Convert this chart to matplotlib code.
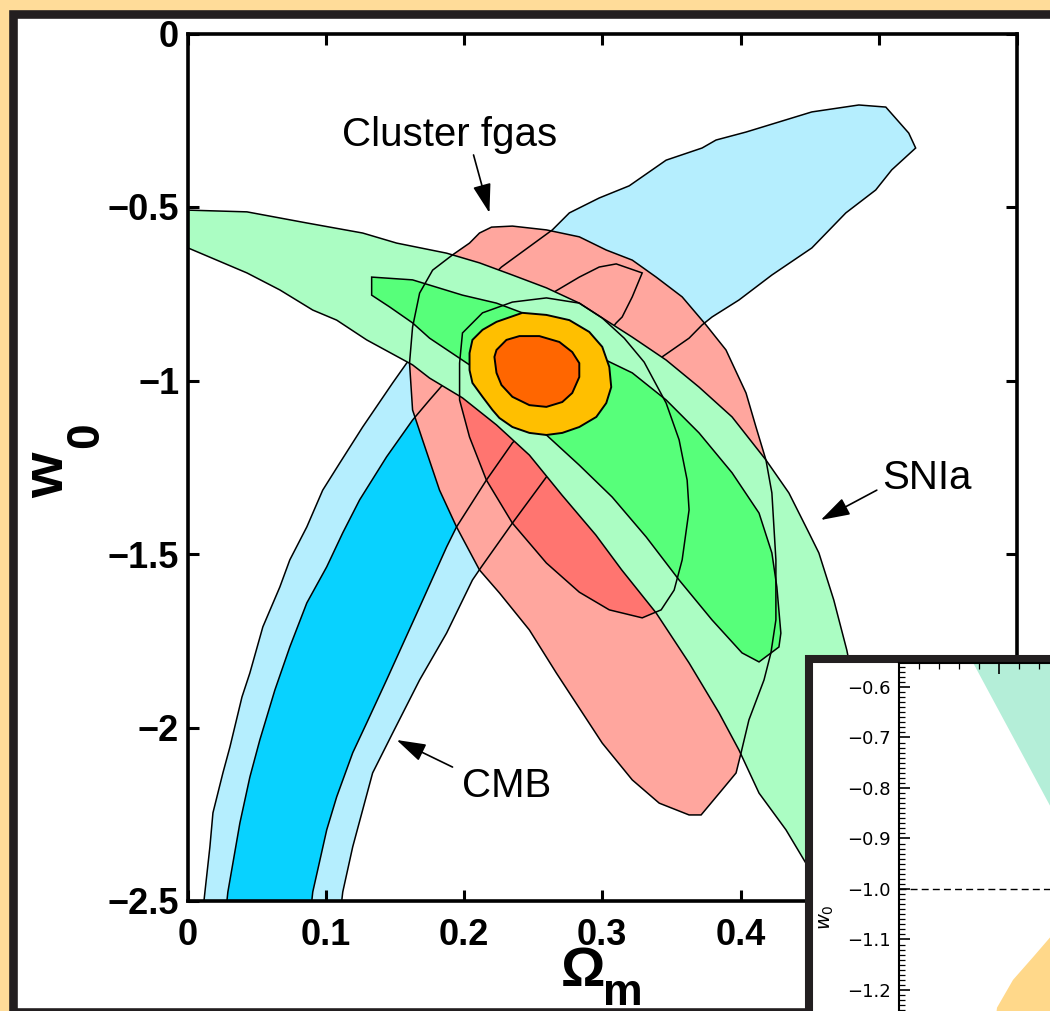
import matplotlib
matplotlib.use("Agg")
import matplotlib.pyplot as plt
from matplotlib.patches import Polygon, Rectangle
from matplotlib.ticker import FixedLocator, MultipleLocator, NullFormatter

# ---------------- data (Omega_m, w0) ----------------
cmb95_om = [0.0112, 0.0126, 0.0162, 0.0184, 0.0256, 0.0307, 0.0394, 0.0451, 0.0545, 0.0668,
            0.0740, 0.0863, 0.0978, 0.1101, 0.1267, 0.1484, 0.1585, 0.1895, 0.2271, 0.2639,
            0.2762, 0.2978, 0.3195, 0.3462, 0.3722, 0.3823, 0.4040, 0.4278, 0.4516, 0.4856,
            0.5051, 0.5217, 0.5267, 0.5094, 0.4978, 0.4762, 0.4516, 0.4227, 0.3989, 0.3794,
            0.3722, 0.3628, 0.3433, 0.3123, 0.2834, 0.2596, 0.2350, 0.2126, 0.2061, 0.1874,
            0.1679, 0.1484, 0.1339, 0.1195, 0.1123, 0.1108]
cmb95_w = [-2.526, -2.474, -2.344, -2.246, -2.131, -2.056, -1.912, -1.843, -1.710, -1.595,
           -1.517, -1.422, -1.316, -1.238, -1.134, -1.007, -0.950, -0.820, -0.673, -0.566,
           -0.517, -0.474, -0.439, -0.365, -0.330, -0.307, -0.284, -0.255, -0.226, -0.206,
           -0.212, -0.287, -0.330, -0.393, -0.451, -0.517, -0.618, -0.696, -0.768, -0.817,
           -0.840, -0.878, -0.932, -1.056, -1.171, -1.278, -1.411, -1.537, -1.575, -1.728,
           -1.863, -2.016, -2.131, -2.344, -2.474, -2.526]

cmb68_om = [0.0278, 0.0292, 0.0379, 0.0451, 0.0523, 0.0632, 0.0740, 0.0863, 0.1007, 0.1123,
            0.1245, 0.1440, 0.1628, 0.1751, 0.1845, 0.2256, 0.2639, 0.2834, 0.2978, 0.3101,
            0.3289, 0.3217, 0.3144, 0.3101, 0.2834, 0.2581, 0.2350, 0.2162, 0.1946, 0.1874,
            0.1679, 0.1440, 0.1296, 0.1195, 0.1079, 0.1007, 0.0906, 0.0892]
cmb68_w = [-2.526, -2.474, -2.275, -2.143, -2.036, -1.892, -1.768, -1.641, -1.537, -1.439,
           -1.344, -1.220, -1.114, -1.056, -1.013, -0.869, -0.748, -0.702, -0.673, -0.664,
           -0.690, -0.759, -0.817, -0.834, -0.970, -1.085, -1.180, -1.287, -1.422, -1.480,
           -1.653, -1.863, -1.987, -2.073, -2.200, -2.295, -2.474, -2.526]

fgas95_om = [0.1917, 0.2040, 0.2112, 0.2199, 0.2350, 0.2596, 0.2834, 0.3029, 0.3217, 0.3390,
             0.3578, 0.3751, 0.3895, 0.4040, 0.4112, 0.4184, 0.4227, 0.4256, 0.4256, 0.4220,
             0.4170, 0.4061, 0.4004, 0.3968, 0.3866, 0.3715, 0.3628, 0.3412, 0.3217, 0.3000,
             0.2834, 0.2668, 0.2473, 0.2256, 0.2112, 0.1946, 0.1823, 0.1700, 0.1628, 0.1606,
             0.1628, 0.1679, 0.1773]
fgas95_w = [-0.638, -0.604, -0.575, -0.558, -0.555, -0.566, -0.586, -0.624, -0.653, -0.702,
            -0.759, -0.840, -0.912, -1.036, -1.134, -1.229, -1.324, -1.517, -1.690, -1.785,
            -1.863, -1.978, -2.073, -2.131, -2.180, -2.252, -2.252, -2.218, -2.151, -2.045,
            -1.944, -1.843, -1.719, -1.612, -1.546, -1.422, -1.316, -1.171, -1.085, -0.950,
            -0.846, -0.748, -0.682]

fgas68_om = [0.1968, 0.1989, 0.2134, 0.2350, 0.2596, 0.2834, 0.3000, 0.3159, 0.3303, 0.3462,
             0.3556, 0.3614, 0.3628, 0.3578, 0.3520, 0.3426, 0.3289, 0.3051, 0.2834, 0.2596,
             0.2350, 0.2162, 0.2040, 0.1968]
fgas68_w = [-0.950, -0.863, -0.805, -0.774, -0.762, -0.777, -0.820, -0.878, -0.947, -1.065,
            -1.171, -1.287, -1.373, -1.517, -1.604, -1.661, -1.684, -1.661, -1.610, -1.526,
            -1.411, -1.287, -1.163, -1.056]

sn95_om = [-0.0126, 0.0004, 0.0430, 0.0863, 0.1267, 0.1513, 0.1874, 0.2112, 0.2350, 0.2596,
           0.2834, 0.2978, 0.3217, 0.3462, 0.3700, 0.3939, 0.4184, 0.4350, 0.4495, 0.4567,
           0.4675, 0.4769, 0.4928, 0.5000, 0.4711, 0.4473, 0.4329, 0.4134, 0.3989, 0.3845,
           0.3628, 0.3390, 0.3141, 0.2953, 0.2708, 0.2473, 0.2235, 0.1989, 0.1751, 0.1628,
           0.1296, 0.1079, 0.0906, 0.0668, 0.0430, 0.0004, -0.0126]
sn95_w = [-0.506, -0.509, -0.514, -0.546, -0.575, -0.604, -0.633, -0.661, -0.696, -0.733,
          -0.777, -0.814, -0.875, -0.941, -1.019, -1.105, -1.229, -1.324, -1.439, -1.497,
          -1.633, -1.777, -2.094, -2.497, -2.555, -2.391, -2.295, -2.189, -2.065, -1.958,
          -1.814, -1.670, -1.546, -1.445, -1.330, -1.215, -1.128, -1.050, -0.993, -0.955,
          -0.883, -0.826, -0.797, -0.739, -0.690, -0.618, -0.595]

sn68_om = [0.1332, 0.1628, 0.1751, 0.1989, 0.2235, 0.2422, 0.2690, 0.2978, 0.3217, 0.3462,
           0.3700, 0.3939, 0.4134, 0.4227, 0.4263, 0.4292, 0.4278, 0.4134, 0.4011, 0.3794,
           0.3556, 0.3318, 0.3072, 0.2834, 0.2596, 0.2329, 0.2040, 0.1751, 0.1628, 0.1462,
           0.1332]
sn68_w = [-0.702, -0.710, -0.725, -0.754, -0.777, -0.805, -0.863, -0.932, -0.978, -1.056,
          -1.151, -1.266, -1.382, -1.497, -1.595, -1.728, -1.768, -1.811, -1.785, -1.690,
          -1.575, -1.451, -1.336, -1.244, -1.157, -1.056, -0.955, -0.878, -0.834, -0.788,
          -0.754]

comb95_om = [0.2040, 0.2061, 0.2134, 0.2235, 0.2422, 0.2596, 0.2762, 0.2906, 0.3000, 0.3051,
             0.3065, 0.3029, 0.2957, 0.2834, 0.2711, 0.2596, 0.2473, 0.2350, 0.2256, 0.2206,
             0.2134, 0.2061, 0.2040]
comb95_w = [-0.921, -0.883, -0.854, -0.831, -0.805, -0.811, -0.826, -0.860, -0.903, -0.961,
            -1.019, -1.065, -1.105, -1.134, -1.151, -1.157, -1.151, -1.134, -1.108, -1.085,
            -1.047, -1.007, -0.970]

comb68_om = [0.2220, 0.2235, 0.2307, 0.2401, 0.2545, 0.2690, 0.2783, 0.2834, 0.2834, 0.2783,
             0.2711, 0.2596, 0.2473, 0.2350, 0.2271, 0.2235]
comb68_w = [-0.932, -0.912, -0.883, -0.872, -0.872, -0.889, -0.918, -0.950, -0.990, -1.036,
            -1.062, -1.076, -1.071, -1.047, -1.013, -0.978]

x_ticks = [0, 0.1, 0.2, 0.3, 0.4, 0.5, 0.6]
x_ticklabels = ["0", "0.1", "0.2", "0.3", "0.4", "0.5", "0.6"]
y_ticks = [0, -0.5, -1, -1.5, -2, -2.5]
y_ticklabels = ["0", "\u22120.5", "\u22121", "\u22121.5", "\u22122", "\u22122.5"]

# inset (zoomed panel)
inset_sn_om = [0.2354, 0.2755, 0.300, 0.400, 0.400]
inset_sn_w = [-0.540, -0.835, -1.020, -1.020, -0.540]
inset_comb_om = [0.300, 0.2755, 0.2670, 0.2570, 0.2490, 0.2470, 0.400, 0.400]
inset_comb_w = [-1.075, -1.096, -1.135, -1.180, -1.235, -1.300, -1.300, -1.075]
inset_yticks = [-0.6, -0.7, -0.8, -0.9, -1.0, -1.1, -1.2, -1.3, -1.4]
inset_yticklabels = ["\u22120.6", "\u22120.7", "\u22120.8", "\u22120.9", "\u22121.0",
                     "\u22121.1", "\u22121.2", "\u22121.3", "\u22121.4"]
inset_ref_w = -1.0

# ---------------- styling ----------------
BG = "#FFDC99"
FRAME = "#231F20"
C_CMB95, C_CMB68 = "#B5EEFE", "#08D2FF"
C_FG95, C_FG68 = "#FFA69E", "#FF7570"
C_SN95, C_SN68 = "#ABFDC3", "#57FF7A"
C_CO95, C_CO68 = "#FFBF00", "#FF6600"
FONT = "Liberation Sans"

W, H = 1050, 1011
fig = plt.figure(figsize=(W / 100, H / 100), dpi=100, facecolor=BG)

def fx(px):
    return px / W

def fy(py):
    return 1 - py / H

# main white frame
fig.add_artist(Rectangle((fx(13), fy(1012)), fx(1100 - 13), fy(14) - fy(1012),
                         transform=fig.transFigure, facecolor="white",
                         edgecolor=FRAME, lw=6.2, zorder=-1))

ax = fig.add_axes([fx(187.5), fy(901), fx(1017) - fx(187.5), fy(33.5) - fy(901)], zorder=0)
ax.set_xlim(0, 0.6)
ax.set_ylim(-2.5, 0)

def fill(xs, ys, color, z):
    ax.add_patch(Polygon(list(zip(xs, ys)), closed=True, facecolor=color,
                         edgecolor="none", zorder=z))

def outline(xs, ys, z, lw=1.1):
    ax.add_patch(Polygon(list(zip(xs, ys)), closed=True, fill=False,
                         edgecolor="black", lw=lw, zorder=z))

fill(cmb95_om, cmb95_w, C_CMB95, 1.0)
fill(cmb68_om, cmb68_w, C_CMB68, 1.1)
fill(fgas95_om, fgas95_w, C_FG95, 2.0)
fill(fgas68_om, fgas68_w, C_FG68, 2.1)
outline(cmb95_om, cmb95_w, 3.0)
outline(cmb68_om, cmb68_w, 3.0)
fill(sn95_om, sn95_w, C_SN95, 4.0)
fill(sn68_om, sn68_w, C_SN68, 4.1)
outline(fgas95_om, fgas95_w, 5.0)
outline(fgas68_om, fgas68_w, 5.0)
outline(sn95_om, sn95_w, 6.0)
outline(sn68_om, sn68_w, 6.0)
fill(comb95_om, comb95_w, C_CO95, 7.0)
outline(comb95_om, comb95_w, 7.05, lw=1.4)
fill(comb68_om, comb68_w, C_CO68, 7.1)
outline(comb68_om, comb68_w, 7.15, lw=1.4)

# annotations
arrow = dict(arrowstyle="-|>,head_length=0.9,head_width=0.28", color="black",
             lw=1.2, shrinkA=0, shrinkB=0, mutation_scale=20)
ax.text(0.1895, -0.2925, "Cluster fgas", ha="center", va="center", fontsize=29,
        family=FONT, zorder=9)
ax.annotate("", xy=(0.2184, -0.517), xytext=(0.2069, -0.350), arrowprops=arrow, zorder=9)
ax.text(0.5347, -1.281, "SNIa", ha="center", va="center", fontsize=29, family=FONT, zorder=9)
ax.annotate("", xy=(0.4581, -1.402), xytext=(0.4986, -1.316), arrowprops=arrow, zorder=9)
ax.text(0.2307, -2.169, "CMB", ha="center", va="center", fontsize=29, family=FONT, zorder=9)
ax.annotate("", xy=(0.1513, -2.036), xytext=(0.1917, -2.114), arrowprops=arrow, zorder=9)

# axes styling
ax.xaxis.set_major_locator(FixedLocator(x_ticks))
ax.set_xticklabels(x_ticklabels)
ax.yaxis.set_major_locator(FixedLocator(y_ticks))
ax.set_yticklabels(y_ticklabels)
ax.tick_params(direction="in", length=8, width=2.2, top=True, right=True,
               labelsize=26)
ax.tick_params(axis="x", pad=12)
ax.tick_params(axis="y", pad=6)
for lab in ax.get_xticklabels() + ax.get_yticklabels():
    lab.set_family(FONT)
    lab.set_fontweight("bold")
for sp in ax.spines.values():
    sp.set_linewidth(2.6)
    sp.set_zorder(20)
ax.xaxis.set_zorder(20)
ax.yaxis.set_zorder(20)

# axis labels
fig.text(fx(63), fy(498), "w", rotation=90, rotation_mode="anchor", ha="left",
         va="baseline", fontsize=42, fontweight="bold", family=FONT)
fig.text(fx(98), fy(448), "0", rotation=90, rotation_mode="anchor", ha="left",
         va="baseline", fontsize=33, fontweight="bold", family=FONT)
fig.text(fx(583), fy(986), "\u03a9", ha="center", va="baseline", fontsize=40,
         fontweight="bold", family=FONT)
fig.text(fx(603), fy(1005), "m", ha="left", va="baseline", fontsize=32,
         fontweight="bold", family=FONT)

# ---------------- inset ----------------
fig.add_artist(Rectangle((fx(809), fy(1200)), fx(1300 - 809), fy(659) - fy(1200),
                         transform=fig.transFigure, facecolor="white",
                         edgecolor=FRAME, lw=5.8, zorder=1))
ax2 = fig.add_axes([fx(899), fy(1112), fx(1260) - fx(899), fy(663) - fy(1112)], zorder=2)
ax2.set_xlim(0.20, 0.3805)
ax2.set_ylim(-1.4416, -0.5525)
ax2.add_patch(Polygon(list(zip(inset_sn_om, inset_sn_w)), closed=True,
                      facecolor="#B4EED8", edgecolor="none", zorder=1))
ax2.add_patch(Polygon(list(zip(inset_comb_om, inset_comb_w)), closed=True,
                      facecolor="#FFD88A", edgecolor="none", zorder=1))
ax2.axhline(inset_ref_w, color="black", lw=1.0, ls=(0, (5, 3)), zorder=2)
ax2.xaxis.tick_top()
ax2.xaxis.set_major_locator(MultipleLocator(0.05))
ax2.xaxis.set_minor_locator(MultipleLocator(0.01))
ax2.xaxis.set_major_formatter(NullFormatter())
ax2.yaxis.set_major_locator(FixedLocator(inset_yticks))
ax2.set_yticklabels(inset_yticklabels)
ax2.yaxis.set_minor_locator(MultipleLocator(0.01))
ax2.tick_params(which="major", direction="in", length=8, width=1.2, labelsize=13, pad=6)
ax2.tick_params(which="minor", direction="in", length=4, width=0.9)
for lab in ax2.get_yticklabels():
    lab.set_family("DejaVu Sans")
for sp in ax2.spines.values():
    sp.set_linewidth(1.5)
fig.text(fx(826), fy(917), r"$w_0$", rotation=90, ha="center", va="center",
         fontsize=14, zorder=5)

fig.savefig("out.png", dpi=100, facecolor=BG)
